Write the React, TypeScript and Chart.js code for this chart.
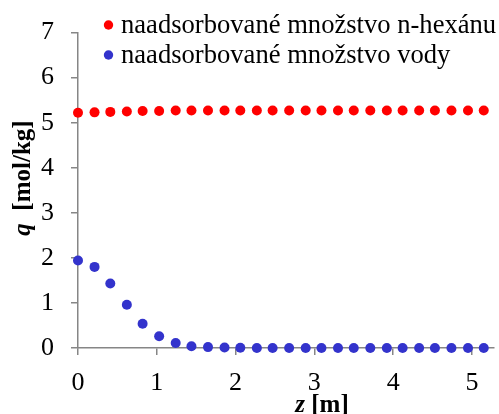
import React, { useEffect, useRef } from "react";
import { Chart, registerables } from "chart.js";

Chart.register(...registerables);

// ---- data ----
const zValues = [0, 0.21, 0.41, 0.62, 0.82, 1.03, 1.24, 1.44, 1.65, 1.86, 2.06, 2.27, 2.47, 2.68, 2.89, 3.09, 3.3, 3.5, 3.71, 3.92, 4.12, 4.33, 4.53, 4.74, 4.95, 5.15];
const hexaneQ = [5.22, 5.23, 5.24, 5.25, 5.26, 5.26, 5.27, 5.27, 5.27, 5.27, 5.27, 5.27, 5.27, 5.27, 5.27, 5.27, 5.27, 5.27, 5.27, 5.27, 5.27, 5.27, 5.27, 5.27, 5.27, 5.27];
const waterQ = [1.94, 1.8, 1.43, 0.96, 0.54, 0.26, 0.11, 0.04, 0.02, 0.01, 0.005, 0, 0, 0, 0, 0, 0, 0, 0, 0, 0, 0, 0, 0, 0, 0];
const seriesLabels = ["naadsorbované množstvo n-hexánu", "naadsorbované množstvo vody"];
const seriesColors = ["#FF0000", "#3333CC"];
const xAxisTitle = [{ t: "z", italic: true }, { t: " [m]", italic: false }];
const yAxisTitle = [{ t: "q", italic: true }, { t: "  [mol/kg]", italic: false }];

const FONT = '"Liberation Serif", "Times New Roman", serif';

function drawMixed(ctx: CanvasRenderingContext2D, parts: { t: string; italic: boolean }[], size: number) {
  const fontOf = (it: boolean) => `${it ? "italic " : ""}bold ${size}px ${FONT}`;
  let total = 0;
  for (const p of parts) {
    ctx.font = fontOf(p.italic);
    total += ctx.measureText(p.t).width;
  }
  let x = -total / 2;
  for (const p of parts) {
    ctx.font = fontOf(p.italic);
    ctx.fillText(p.t, x, 0);
    x += ctx.measureText(p.t).width;
  }
}

const decorPlugin = {
  id: "decor",
  afterDraw(chart: any) {
    const ctx: CanvasRenderingContext2D = chart.ctx;
    ctx.save();
    // legend
    ctx.textAlign = "left";
    ctx.textBaseline = "alphabetic";
    ctx.font = `26.6px ${FONT}`;
    const rows = [25, 55];
    seriesLabels.forEach((label, i) => {
      ctx.fillStyle = seriesColors[i];
      ctx.beginPath();
      ctx.arc(108.5, rows[i], 4.7, 0, Math.PI * 2);
      ctx.fill();
      ctx.fillStyle = "#000";
      ctx.fillText(label, 121, rows[i] + 8);
    });
    // axis titles
    ctx.fillStyle = "#000";
    ctx.textAlign = "left";
    ctx.textBaseline = "alphabetic";
    ctx.save();
    ctx.translate(322, 412);
    drawMixed(ctx, xAxisTitle, 25);
    ctx.restore();
    ctx.save();
    ctx.translate(30, 178);
    ctx.rotate(-Math.PI / 2);
    drawMixed(ctx, yAxisTitle, 25);
    ctx.restore();
    ctx.restore();
  },
};

export default function App() {
  const ref = useRef<HTMLCanvasElement | null>(null);
  useEffect(() => {
    document.body.style.margin = "0";
    if (!ref.current) return;
    const axisColor = "#868686";
    const chart = new Chart(ref.current, {
      type: "scatter",
      data: {
        datasets: [
          {
            label: seriesLabels[0],
            data: zValues.map((z, i) => ({ x: z, y: hexaneQ[i] })),
            backgroundColor: seriesColors[0],
            borderColor: seriesColors[0],
            pointRadius: 5,
            borderWidth: 0,
            clip: false as any,
          },
          {
            label: seriesLabels[1],
            data: zValues.map((z, i) => ({ x: z, y: waterQ[i] })),
            backgroundColor: seriesColors[1],
            borderColor: seriesColors[1],
            pointRadius: 5,
            borderWidth: 0,
            clip: false as any,
          },
        ],
      },
      options: {
        animation: false,
        responsive: false,
        maintainAspectRatio: false,
        layout: { padding: { top: 28, left: 0, right: 0, bottom: 0 } },
        plugins: { legend: { display: false }, tooltip: { enabled: false } },
        scales: {
          x: {
            type: "linear",
            min: 0,
            max: 5.28,
            afterFit: (s: any) => { s.height = 66; },
            ticks: { stepSize: 1, includeBounds: false, color: "#000", font: { family: FONT, size: 26 }, padding: 13 },
            grid: { drawOnChartArea: false, drawTicks: true, tickLength: 7, color: axisColor, lineWidth: 1.5 },
            border: { display: true, color: axisColor, width: 1.5 },
          },
          y: {
            type: "linear",
            min: 0,
            max: 7,
            afterFit: (s: any) => { s.width = 78; },
            ticks: { stepSize: 1, color: "#000", font: { family: FONT, size: 26 }, padding: 17 },
            grid: { drawOnChartArea: false, drawTicks: true, tickLength: 7, color: axisColor, lineWidth: 1.5 },
            border: { display: true, color: axisColor, width: 1.5 },
          },
        },
      },
      plugins: [decorPlugin],
    });
    return () => chart.destroy();
  }, []);
  return (
    <div style={{ width: 499, height: 414 }}>
      <canvas ref={ref} width={499} height={414} style={{ display: "block" }} />
    </div>
  );
}
